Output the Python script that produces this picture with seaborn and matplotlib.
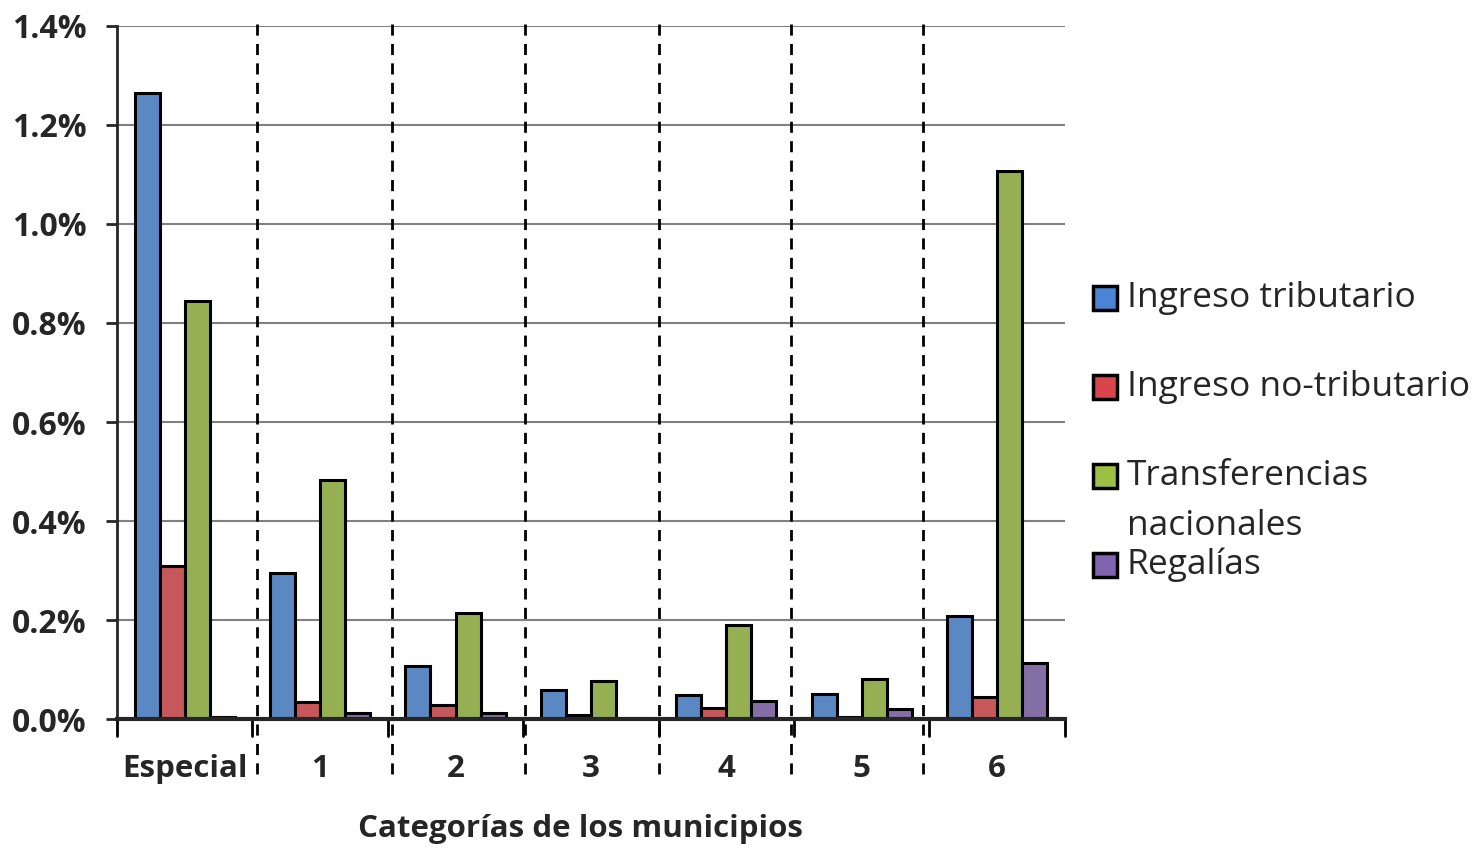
import pandas as pd
import matplotlib.pyplot as plt
import seaborn as sns
from matplotlib.patches import Rectangle
from matplotlib.ticker import FuncFormatter

categorias = ['Especial', '1', '2', '3', '4', '5', '6']
series = ['Ingreso tributario', 'Ingreso no-tributario', 'Transferencias nacionales', 'Regalías']
ingreso_tributario = [1.265, 0.295, 0.107, 0.059, 0.048, 0.050, 0.208]
ingreso_no_tributario = [0.310, 0.035, 0.028, 0.008, 0.022, 0.005, 0.044]
transferencias = [0.845, 0.483, 0.214, 0.077, 0.190, 0.081, 1.107]
regalias = [0.005, 0.012, 0.012, 0.002, 0.036, 0.020, 0.113]
colores = ['#4A84D4', '#D9454B', '#9BC043', '#8064B0']
legend_labels = ['Ingreso tributario', 'Ingreso no-tributario', 'Transferencias\nnacionales', 'Regalías']

valores = [ingreso_tributario, ingreso_no_tributario, transferencias, regalias]
df = pd.DataFrame([
    {'Categoria': c, 'Serie': s, 'Valor': v}
    for s, vals in zip(series, valores)
    for c, v in zip(categorias, vals)
])

sns.set_style('white')
plt.rcParams['font.family'] = ['Open Sans', 'DejaVu Sans']

fig = plt.figure(figsize=(14.79, 8.49), dpi=100)
ax = fig.add_axes([0.0791, 0.1531, 0.6409, 0.8163])

sns.barplot(data=df, x='Categoria', y='Valor', hue='Serie', order=categorias,
            hue_order=series, palette=colores, width=0.74, edgecolor='black',
            linewidth=2.2, ax=ax, legend=False)

ax.set_ylim(0, 1.4)
ax.set_xlim(-0.5, 6.5)
ax.set_yticks([0, 0.2, 0.4, 0.6, 0.8, 1.0, 1.2, 1.4])
ax.yaxis.set_major_formatter(FuncFormatter(lambda v, p: f'{v:.1f}%'))
ax.grid(axis='y', color='#808080', linewidth=1.5)
ax.set_axisbelow(True)
for s in ['top', 'right']:
    ax.spines[s].set_visible(False)
ax.spines['left'].set_linewidth(2)
ax.spines['bottom'].set_linewidth(3)
ax.tick_params(axis='y', length=8, width=2, direction='out', left=True, labelsize=23, pad=14)
ax.tick_params(axis='x', length=0, labelsize=22.5, pad=25)
for t in ax.get_yticklabels() + ax.get_xticklabels():
    t.set_fontweight('bold')

# marcas de separación entre categorías
for i in range(-1, 7):
    ax.plot([i + 0.5, i + 0.5], [0, -0.035], color='black', lw=2, clip_on=False)
desfase = [0.034, 0.031, 0.013, 0.002, -0.023, -0.049]
for i, d in enumerate(desfase):
    ax.axvline(i + 0.5 + d, ymin=-0.08, ymax=1.012, color='black', linestyle=(0, (4, 3)),
               linewidth=2, clip_on=False)

ax.set_xlabel('Categorías de los municipios', fontsize=22.5, fontweight='bold')
ax.xaxis.set_label_coords(0.489, -0.137)
ax.set_ylabel('')

# leyenda
posiciones = [298, 387, 501, 565]
for col, lab, y in zip(colores, legend_labels, posiciones):
    yf = 1 - y / 849
    ycuadro = yf if '\n' not in lab else 1 - 476 / 849
    fig.patches.append(Rectangle((1093 / 1479, ycuadro - 12 / 849), 24 / 1479, 24 / 849,
                                 transform=fig.transFigure, facecolor=col,
                                 edgecolor='black', linewidth=2.5))
    fig.text(1127 / 1479, yf, lab, fontsize=25.5, va='center', linespacing=1.6)

fig.savefig('out.png', dpi=100)
